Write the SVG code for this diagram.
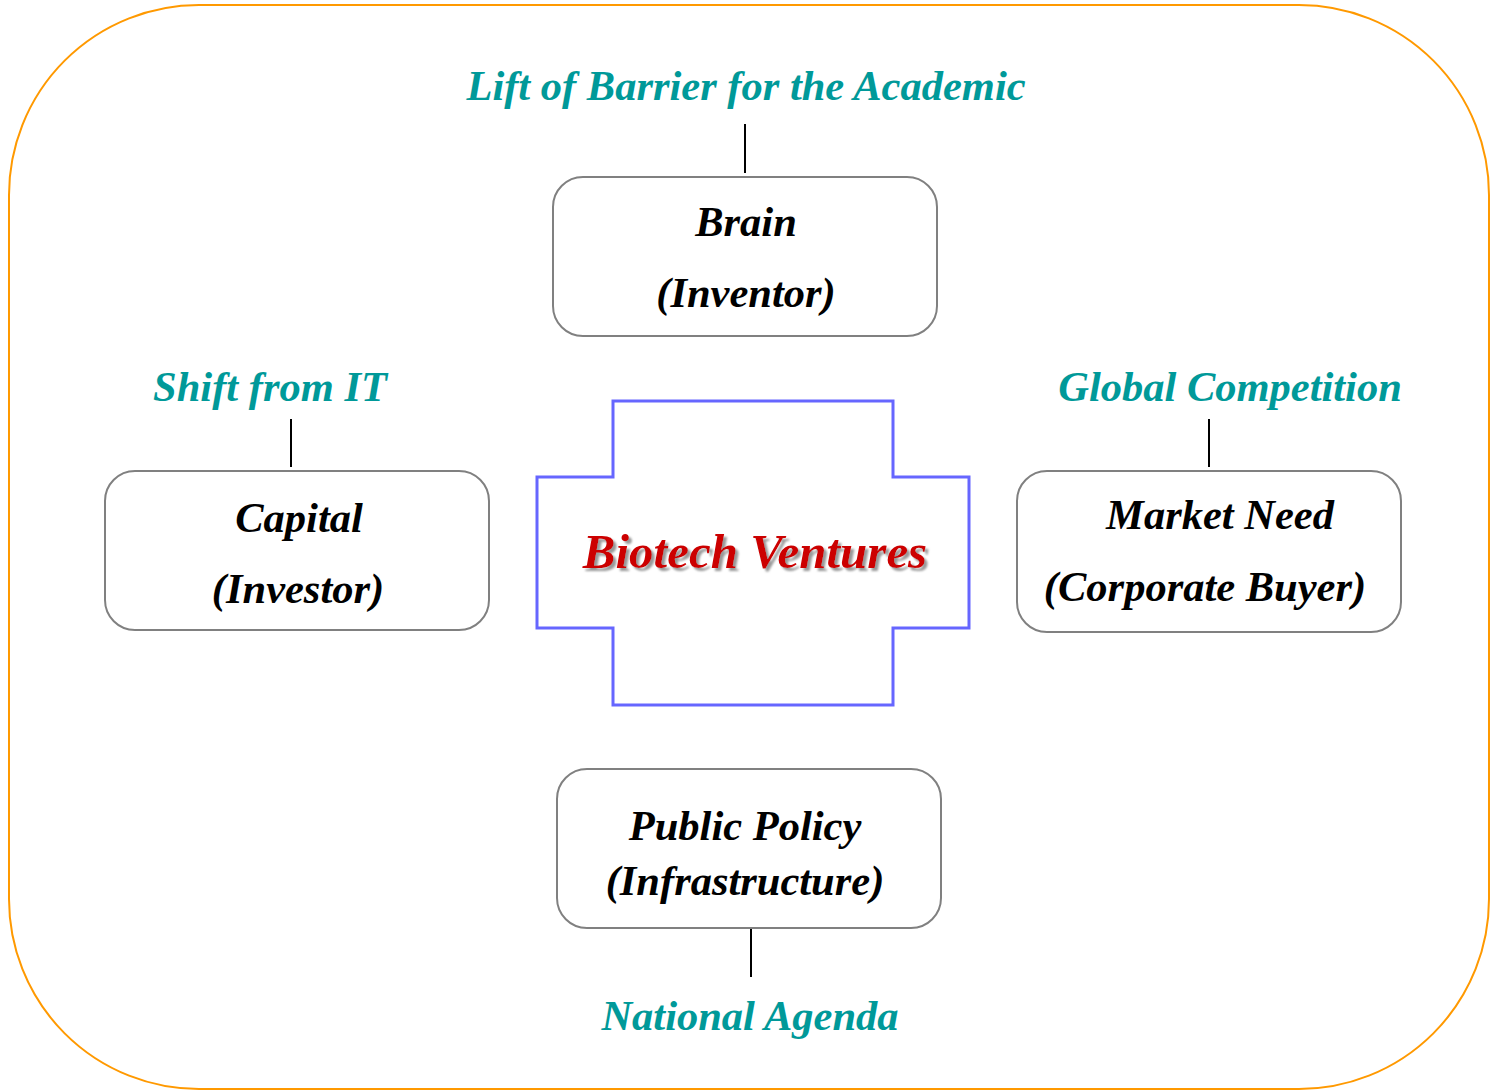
<svg xmlns="http://www.w3.org/2000/svg" width="1491" height="1092" viewBox="0 0 1491 1092">
<style>
.box{fill:#fff;stroke:#808080;stroke-width:2}
.t{font-family:"Liberation Serif",serif;font-weight:bold;font-style:italic;font-size:42.5px;fill:#000;text-anchor:middle}
.lab{font-family:"Liberation Serif",serif;font-weight:bold;font-style:italic;font-size:42.5px;fill:#009999;text-anchor:middle}
.ln{stroke:#000;stroke-width:2}
</style>
<defs>
<filter id="sh" x="-10%" y="-20%" width="120%" height="150%">
<feGaussianBlur in="SourceAlpha" stdDeviation="1"/>
<feOffset dx="3" dy="3" result="o"/>
<feFlood flood-color="#999"/>
<feComposite in2="o" operator="in"/>
<feMerge><feMergeNode/><feMergeNode in="SourceGraphic"/></feMerge>
</filter>
</defs>
<rect x="9" y="5" width="1480" height="1084" rx="190" ry="190" fill="#fff" stroke="#FF9900" stroke-width="2"/>
<g id="connectors">
<line class="ln" x1="745" y1="124" x2="745" y2="173"/>
<line class="ln" x1="291" y1="419" x2="291" y2="467"/>
<line class="ln" x1="1209" y1="419" x2="1209" y2="467"/>
<line class="ln" x1="751" y1="929" x2="751" y2="977"/>
</g>
<g id="center">
<path d="M613,401 H893 V477 H969 V628 H893 V705 H613 V628 H537 V477 H613 Z" fill="#fff" stroke="#6666FF" stroke-width="3"/>
<text x="755" y="568" style="font-family:'Liberation Serif',serif;font-weight:bold;font-style:italic;font-size:49px" fill="#CC0000" text-anchor="middle" filter="url(#sh)">Biotech Ventures</text>
</g>
<g id="brain">
<rect class="box" x="553" y="177" width="384" height="159" rx="30"/>
<text class="t" x="746" y="236">Brain</text>
<text class="t" x="746" y="307">(Inventor)</text>
</g>
<g id="capital">
<rect class="box" x="105" y="471" width="384" height="159" rx="30"/>
<text class="t" x="299" y="532">Capital</text>
<text class="t" x="298" y="603">(Investor)</text>
</g>
<g id="market">
<rect class="box" x="1017" y="471" width="384" height="161" rx="30"/>
<text class="t" x="1220" y="529">Market Need</text>
<text class="t" x="1205" y="601">(Corporate Buyer)</text>
</g>
<g id="policy">
<rect class="box" x="557" y="769" width="384" height="159" rx="30"/>
<text class="t" x="745" y="840">Public Policy</text>
<text class="t" x="745" y="895">(Infrastructure)</text>
</g>
<g id="labels">
<text class="lab" x="746" y="100">Lift of Barrier for the Academic</text>
<text class="lab" x="270" y="401">Shift from IT</text>
<text class="lab" x="1230" y="401">Global Competition</text>
<text class="lab" x="750" y="1030">National Agenda</text>
</g>
</svg>
